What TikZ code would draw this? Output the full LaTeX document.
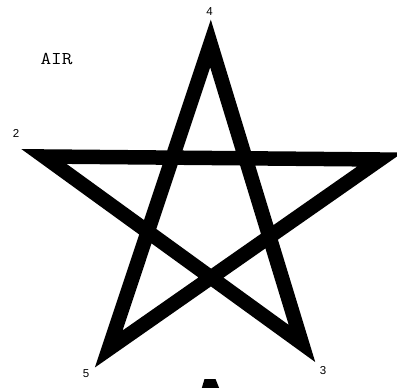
\documentclass[tikz,border=0pt]{standalone}
\usepackage{fontspec}
\setmainfont{Liberation Sans}
\begin{document}
\begin{tikzpicture}[x=1pt,y=-1pt,
  starline/.style={line width=14.5pt, line join=miter, miter limit=10, draw=black},
  numlabel/.style={inner sep=0pt, font=\fontsize{11.5}{13}\selectfont},
  airlabel/.style={inner sep=0pt, font=\ttfamily\fontsize{18}{20}\selectfont, xscale=1.15}]
\useasboundingbox (0,0) rectangle (397,388);
\coordinate (v4) at (210.5,43.5);
\coordinate (v2) at (44,156.5);
\coordinate (vr) at (380,159.5);
\coordinate (v5) at (108.7,349);
\coordinate (v3) at (302,343.5);
\draw[starline] (v4) -- (v5) -- (vr) -- (v2) -- (v3) -- cycle;
\node[numlabel] (l4) at (209.5,12) {4};
\node[numlabel] (l2) at (16,133) {2};
\node[numlabel] (l5) at (86,373.5) {5};
\node[numlabel] (l3) at (323,371) {3};
\node[airlabel] (air) at (56.5,58.5) {AIR};
\fill[black] (204.5,379) -- (215.5,379) -- (219.5,389) -- (201.5,389) -- cycle;
\end{tikzpicture}
\end{document}
